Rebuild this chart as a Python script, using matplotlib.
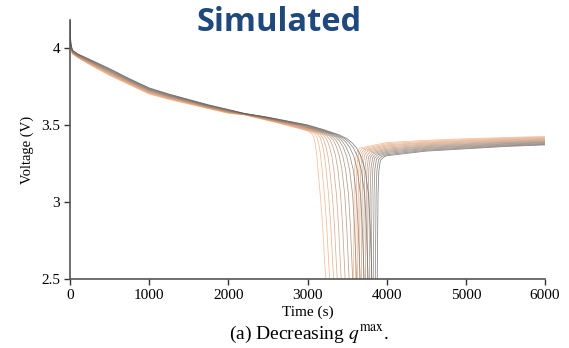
import matplotlib
matplotlib.use("Agg")
import matplotlib.pyplot as plt
import numpy as np

# time (s) where each curve crosses 2.5 V, lightest (orange) to darkest (gray)
fall_end = [3230, 3280, 3330, 3375, 3425, 3475, 3525, 3570, 3620, 3665, 3715, 3765, 3812]

# discharge profile
dark_t = [0, 10, 30, 100, 250, 500, 750, 1000, 1250, 1500, 1750, 2000, 2200, 2500,
          2800, 3000, 3200, 3400, 3500,
          3560, 3620, 3680, 3730, 3770, 3790, 3805, 3812, 3830]
dark_v = [4.18, 4.03, 3.985, 3.96, 3.925, 3.865, 3.80, 3.74, 3.70, 3.665, 3.63, 3.60, 3.575, 3.55,
          3.52, 3.50, 3.47, 3.435, 3.41,
          3.385, 3.35, 3.29, 3.20, 3.05, 2.85, 2.62, 2.50, 2.20]

# discharge profile (same feature points)
light_t = [0, 10, 30, 100, 250, 500, 750, 1000, 1250, 1500, 1750, 2000, 2200, 2400,
           2600, 2750, 2900, 3000, 3050,
           3080, 3100, 3115, 3130, 3160, 3190, 3215, 3230, 3250]
light_v = [4.15, 4.00, 3.96, 3.935, 3.89, 3.82, 3.76, 3.70, 3.665, 3.635, 3.605, 3.575, 3.565, 3.54,
           3.515, 3.495, 3.475, 3.46, 3.445,
           3.42, 3.37, 3.31, 3.22, 3.05, 2.85, 2.62, 2.50, 2.20]

# recovery branch after the drop
rec_dark_t = [3877, 3880, 3890, 3900, 3920, 3960, 4000, 4500, 5000, 5500, 6000]
rec_dark_v = [2.2, 2.5, 3.05, 3.20, 3.27, 3.29, 3.30, 3.33, 3.345, 3.36, 3.37]
rec_light_t = [3577, 3580, 3590, 3600, 3620, 3660, 4000, 4500, 5000, 5500, 6000]
rec_light_v = [2.2, 2.5, 3.10, 3.25, 3.32, 3.35, 3.385, 3.40, 3.41, 3.418, 3.425]

x_ticks = [0, 1000, 2000, 3000, 4000, 5000, 6000]
y_ticks = [2.5, 3, 3.5, 4]
y_ticklabels = ["2.5", "3", "3.5", "4"]

plt.rcParams['mathtext.fontset'] = 'stix'

fig = plt.figure(figsize=(5.69, 3.48), dpi=100)
ax = fig.add_axes([0.123, 0.198, 0.835, 0.7445])

c_light = np.array([0.99, 0.66, 0.45])
c_dark = np.array([0.35, 0.35, 0.35])

span = fall_end[-1] - fall_end[0]
for te in fall_end:
    w = (te - fall_end[0]) / span  # 0 = light, 1 = dark
    t = (1 - w) * np.array(light_t) + w * np.array(dark_t)
    v = (1 - w) * np.array(light_v) + w * np.array(dark_v)
    rt = (1 - w) * np.array(rec_light_t) + w * np.array(rec_dark_t)
    rv = (1 - w) * np.array(rec_light_v) + w * np.array(rec_dark_v)
    color = (1 - w) * c_light + w * c_dark
    ax.plot(np.concatenate([t, rt]), np.concatenate([v, rv]),
            color=color, lw=0.55, alpha=0.75)

ax.set_xlim(0, 6000)
ax.set_ylim(2.5, 4.18)
ax.set_xticks(x_ticks)
ax.set_yticks(y_ticks)
ax.set_yticklabels(y_ticklabels)

for side in ['top', 'right']:
    ax.spines[side].set_visible(False)
for side in ['left', 'bottom']:
    ax.spines[side].set_color('#555555')
    ax.spines[side].set_linewidth(1.2)

ax.tick_params(direction='out', length=4, width=1, color='#333333',
               labelsize=11, pad=3)
for lbl in ax.get_xticklabels() + ax.get_yticklabels():
    lbl.set_family('Liberation Serif')

ax.set_xlabel('Time (s)', family='Liberation Serif', fontsize=11, labelpad=3)
ax.set_ylabel('Voltage (V)', family='Liberation Serif', fontsize=10.5, labelpad=5)

fig.text(0.543, 0.040, r'(a) Decreasing $q^{\mathrm{max}}$.',
         family='Liberation Serif', fontsize=14, ha='center', va='center')
fig.text(0.49, 0.935, 'Simulated', family='Open Sans', fontweight='bold',
         fontsize=23.5, color='#1F497D', ha='center', va='center')

fig.savefig('out.png', dpi=100)
